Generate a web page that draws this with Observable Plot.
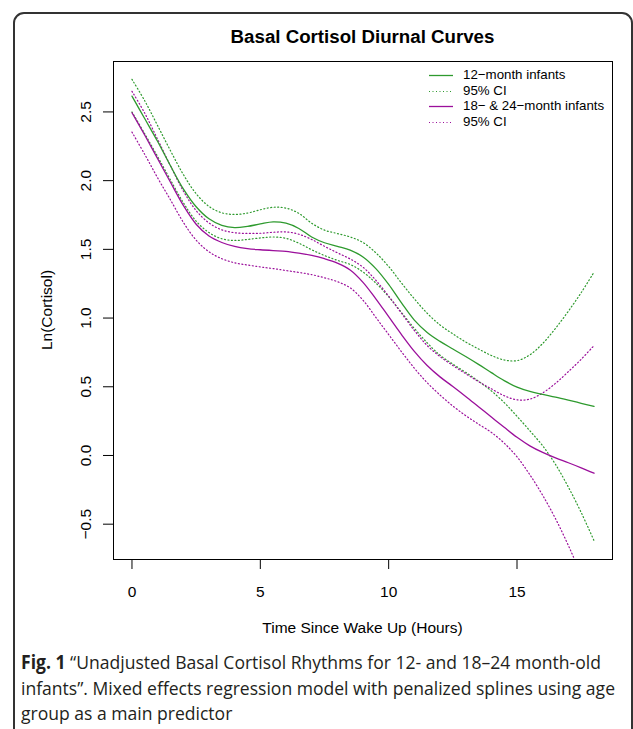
<!DOCTYPE html>
<html><head><meta charset="utf-8">
<script src="https://cdn.jsdelivr.net/npm/d3@7"></script>
<script src="https://cdn.jsdelivr.net/npm/@observablehq/plot@0.6"></script>
<style>
body{margin:0;background:#fff;}
#wrap{position:relative;width:633px;height:729px;overflow:hidden;background:#fff;font-family:"Liberation Sans",Arial,sans-serif;color:#000;}
#frame{position:absolute;left:13px;top:12px;width:620px;height:760px;border:2px solid #333;border-radius:11px;box-sizing:border-box;}
#chart{position:absolute;left:0;top:0;}
#title{position:absolute;left:113px;width:499px;top:26px;text-align:center;font-weight:bold;font-size:18.7px;line-height:22px;}
.axlab{position:absolute;font-size:15.5px;line-height:18px;white-space:nowrap;}
#xlab{left:113px;width:499px;top:619px;text-align:center;}
#ylab{left:47px;top:310px;transform:translate(-50%,-50%) rotate(-90deg);}
#legend{position:absolute;left:425px;top:67px;font-size:13.3px;}
.lrow{position:absolute;left:0;height:16px;width:200px;white-space:nowrap;}
.lrow svg{position:absolute;left:3px;top:0;}
.lrow span{position:absolute;left:38px;top:0;line-height:16px;}
#caption{position:absolute;left:21px;top:650px;font-family:"Open Sans",sans-serif;font-size:19px;color:#231f20;transform-origin:0 0;}
.cline{white-space:nowrap;line-height:25.5px;height:25.5px;}
.cline b{font-weight:bold;}
</style></head><body>
<div id="wrap">
  <div id="frame"></div>
  <div id="chart"></div>
  <div id="title">Basal Cortisol Diurnal Curves</div>
  <div class="axlab" id="xlab">Time Since Wake Up (Hours)</div>
  <div class="axlab" id="ylab">Ln(Cortisol)</div>
  <div id="legend"></div>
  <div id="caption">
    <div class="cline" id="c1"><b>Fig. 1</b> “Unadjusted Basal Cortisol Rhythms for 12- and 18–24 month-old</div>
    <div class="cline" id="c2"><span id="c2s">infants”. Mixed effects regression model with penalized splines using age</span></div>
    <div class="cline" id="c3">group as a main predictor</div>
  </div>
</div>
<script>
// ---- data ----
const hours = [0,0.5,1,1.5,2,2.5,3,3.5,4,4.5,5,5.5,6,6.5,7,7.5,8,8.5,9,9.5,10,10.5,11,11.5,12,12.5,13,13.5,14,14.5,15,15.5,16,16.5,17,17.5,18];
const month12 = [2.615,2.45,2.285,2.108,1.94,1.81,1.722,1.674,1.658,1.667,1.685,1.70,1.69,1.652,1.59,1.548,1.522,1.495,1.445,1.36,1.245,1.11,0.985,0.895,0.83,0.775,0.72,0.663,0.603,0.545,0.497,0.466,0.445,0.425,0.403,0.38,0.357];
const month12Upper = [2.737,2.58,2.40,2.218,2.045,1.905,1.812,1.766,1.754,1.764,1.788,1.806,1.80,1.762,1.69,1.64,1.615,1.59,1.55,1.475,1.375,1.255,1.14,1.035,0.95,0.885,0.826,0.775,0.728,0.695,0.69,0.732,0.815,0.925,1.05,1.185,1.334];
const month12Lower = [2.50,2.34,2.175,2.005,1.84,1.705,1.622,1.577,1.565,1.572,1.583,1.59,1.58,1.545,1.497,1.455,1.42,1.39,1.335,1.255,1.155,1.04,0.925,0.82,0.73,0.665,0.605,0.54,0.47,0.385,0.285,0.18,0.07,-0.065,-0.23,-0.415,-0.62];
const month18 = [2.494,2.33,2.16,1.988,1.82,1.683,1.597,1.55,1.521,1.505,1.497,1.491,1.486,1.473,1.456,1.432,1.40,1.35,1.26,1.14,1.01,0.88,0.758,0.655,0.572,0.502,0.43,0.355,0.28,0.205,0.132,0.07,0.022,-0.018,-0.053,-0.09,-0.129];
const month18Upper = [2.65,2.49,2.30,2.108,1.925,1.782,1.692,1.642,1.621,1.616,1.617,1.624,1.627,1.61,1.572,1.522,1.475,1.43,1.37,1.275,1.16,1.035,0.91,0.80,0.72,0.655,0.595,0.538,0.485,0.435,0.405,0.41,0.455,0.525,0.61,0.70,0.80];
const month18Lower = [2.353,2.19,2.02,1.86,1.697,1.567,1.482,1.432,1.402,1.386,1.372,1.36,1.346,1.332,1.316,1.293,1.265,1.22,1.13,1.005,0.88,0.755,0.635,0.53,0.44,0.36,0.29,0.228,0.168,0.09,-0.01,-0.14,-0.29,-0.46,-0.655,-0.87,-1.10];
const xTicks = [0,5,10,15];
const yTicks = [-0.5,0,0.5,1,1.5,2,2.5];
const legendLabels = ["12\u2212month infants","95% CI","18\u2212 & 24\u2212month infants","95% CI"];

// ---- styles ----
const green = "#2e9a2e", purple = "#9b0f9b";
const series = [
  {values: month12Upper, color: green, dotted: true},
  {values: month12Lower, color: green, dotted: true},
  {values: month18Upper, color: purple, dotted: true},
  {values: month18Lower, color: purple, dotted: true},
  {values: month12, color: green, dotted: false},
  {values: month18, color: purple, dotted: false}
];
const dash = "1,2.5";
const fmt = d => d.toFixed(1).replace("-", "\u2212");

const lineMarks = series.map(s => Plot.line(hours.map((t, i) => ({t, v: s.values[i]})), {
  x: "t", y: "v", stroke: s.color, strokeWidth: s.dotted ? 1.2 : 1.3,
  strokeDasharray: s.dotted ? dash : null, curve: "catmull-rom", clip: true
}));

const chart = Plot.plot({
  width: 633, height: 645,
  marginTop: 61, marginLeft: 113, marginRight: 21, marginBottom: 86,
  x: {domain: [-0.72, 18.72]},
  y: {domain: [-0.757, 2.867]},
  style: {fontFamily: "Liberation Sans, Arial, sans-serif", fontSize: "15.5px", background: "transparent", color: "#000", overflow: "visible"},
  marks: [
    ...lineMarks,
    Plot.frame({stroke: "#000", strokeWidth: 1}),
    Plot.axisX({ticks: xTicks, tickSize: 10, tickPadding: 16, label: null}),
    Plot.axisY({ticks: yTicks, tickSize: 10, tickFormat: () => "", label: null}),
    Plot.text(yTicks, {y: d => d, text: fmt, frameAnchor: "left", dx: -27, rotate: -90, textAnchor: "middle", lineAnchor: "middle", fontSize: 15.5})
  ]
});
document.getElementById("chart").appendChild(chart);

// ---- legend ----
const legendStyles = [
  {color: green, dotted: false}, {color: green, dotted: true},
  {color: purple, dotted: false}, {color: purple, dotted: true}
];
const legend = document.getElementById("legend");
legendLabels.forEach((lab, i) => {
  const row = document.createElement("div");
  row.className = "lrow";
  row.style.top = (i * 15.5) + "px";
  const st = legendStyles[i];
  row.innerHTML = `<svg width="26" height="16"><line x1="1" x2="25" y1="8.5" y2="8.5" stroke="${st.color}" stroke-width="${st.dotted ? 1.2 : 1.3}" ${st.dotted ? `stroke-dasharray="${dash}"` : ""}/></svg><span>${lab.replace("&", "&amp;")}</span>`;
  legend.appendChild(row);
});

// ---- caption width fit ----
const natural = document.getElementById("c2s").getBoundingClientRect().width;
document.getElementById("caption").style.transform = `scaleX(${594 / natural})`;
</script>
</body></html>
